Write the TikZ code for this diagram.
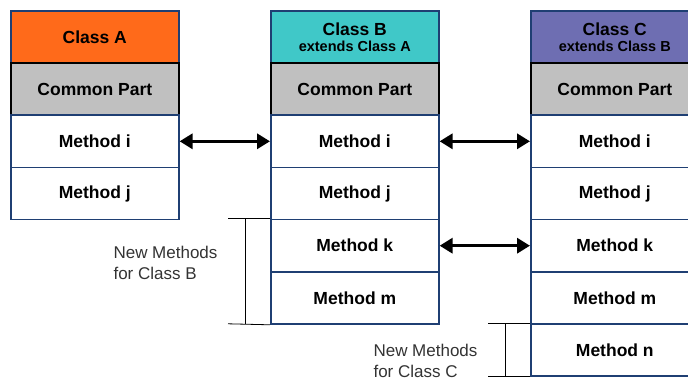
\documentclass[tikz,border=0pt]{standalone}
\usepackage{fontspec}
\setmainfont{Liberation Sans}
\usetikzlibrary{arrows.meta}
\definecolor{frame}{HTML}{1F3F73}
\definecolor{hdrA}{HTML}{FF6A1A}
\definecolor{hdrB}{HTML}{40C8C8}
\definecolor{hdrC}{HTML}{6E6EB2}
\definecolor{common}{HTML}{C0C0C0}
\definecolor{note}{HTML}{333333}
\newcommand\extline[1]{{\bfseries\fontsize{14.5}{16}\selectfont #1}}
\tikzset{
  cell/.style={draw=frame, line width=1.6pt, minimum width=168pt, minimum height=52.2pt,
    anchor=north west, inner sep=0pt, font=\bfseries\fontsize{17.5}{19}\selectfont, align=center},
  header/.style={cell},
  commoncell/.style={cell, draw=black, fill=common},
  method/.style={cell, fill=white},
  link/.style={line width=3.2pt, {Triangle[length=13pt,width=15pt]}-{Triangle[length=13pt,width=15pt]}},
  brace/.style={draw=black, line width=0.8pt},
  notetext/.style={font=\fontsize{17}{20.5}\selectfont, text=note, align=left, anchor=west}
}
\begin{document}
\begin{tikzpicture}[x=1pt,y=-1pt]
  \useasboundingbox (0,0) rectangle (688,380);
  \begin{scope}
  \clip (0,0) rectangle (688,380);
  % Class A
  \node[header, fill=hdrA] (A0) at (10,10) {Class A};
  \node[commoncell] (A1) at (10,62.2) {Common Part};
  \node[method] (Ai) at (10,114.4) {Method i};
  \node[method] (Aj) at (10,166.6) {Method j};
  % Class B
  \node[header, fill=hdrB] (B0) at (270,10) {Class B\\[-3pt]\extline{extends Class A}};
  \node[commoncell] (B1) at (270,62.2) {Common Part};
  \node[method] (Bi) at (270,114.4) {Method i};
  \node[method] (Bj) at (270,166.6) {Method j};
  \node[method] (Bk) at (270,218.8) {Method k};
  \node[method] (Bm) at (270,271) {Method m};
  % Class C
  \node[header, fill=hdrC] (C0) at (530,10) {Class C\\[-3pt]\extline{extends Class B}};
  \node[commoncell] (C1) at (530,62.2) {Common Part};
  \node[method] (Ci) at (530,114.4) {Method i};
  \node[method] (Cj) at (530,166.6) {Method j};
  \node[method] (Ck) at (530,218.8) {Method k};
  \node[method] (Cm) at (530,271) {Method m};
  \node[method] (Cn) at (530,323.2) {Method n};
  \end{scope}
  % links between matching methods
  \draw[link] (Ai.east) -- (Bi.west);
  \draw[link] (Bi.east) -- (Ci.west);
  \draw[link] (Bk.east) -- (Ck.west);
  % bracket for the methods added in Class B
  \coordinate (bt) at (228,218.8);
  \coordinate (bb) at (228,323.8);
  \draw[brace] (bt) -- (Bk.north west);
  \draw[brace] (bb) -- (Bm.south west);
  \draw[brace] (245,218.8) -- (245,323.8);
  \node[notetext] (nb) at (110,263) {New Methods\\for Class B};
  % bracket for the methods added in Class C
  \coordinate (ct) at (488,323.2);
  \coordinate (cb) at (488,376.5);
  \draw[brace] (ct) -- (Cn.north west);
  \draw[brace] (cb) -- (530,376.5);
  \draw[brace] (505,323.2) -- (505,376.5);
  \node[notetext] (nc) at (370,361) {New Methods\\for Class C};
\end{tikzpicture}
\end{document}
